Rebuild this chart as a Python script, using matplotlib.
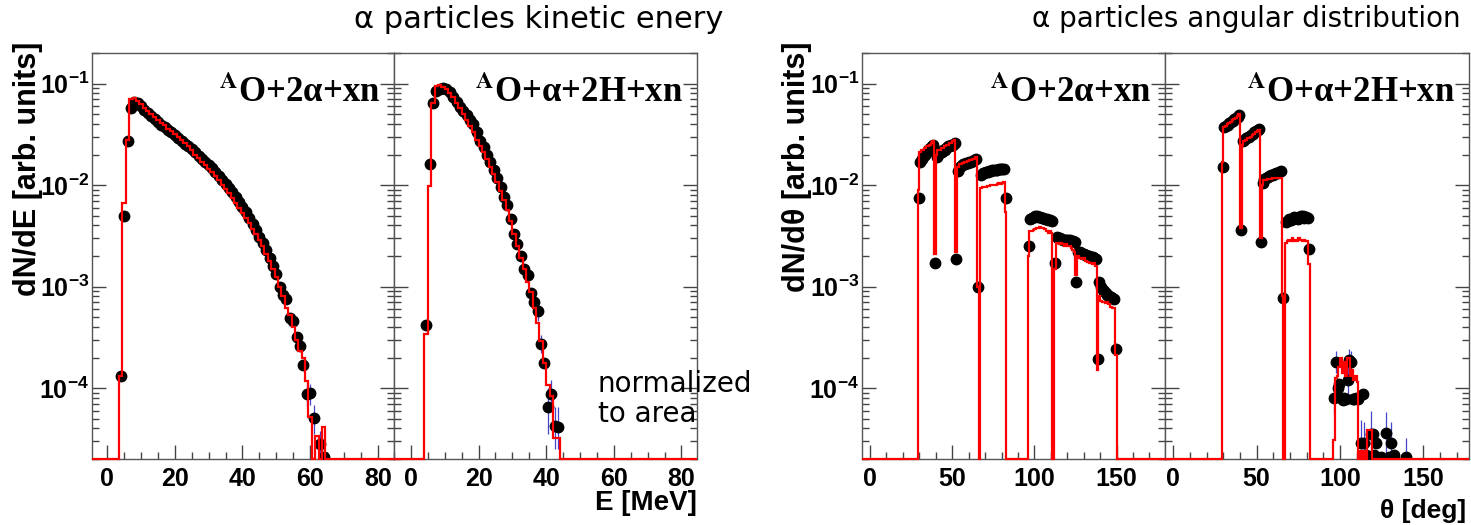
import numpy as np
import matplotlib.pyplot as plt
from matplotlib.ticker import MultipleLocator, LogLocator, FuncFormatter, NullFormatter

plt.rcParams['mathtext.fontset'] = 'custom'
plt.rcParams['mathtext.rm'] = 'Liberation Sans'
plt.rcParams['mathtext.bf'] = 'Liberation Sans:bold'

# ------------------------------------------------------------
# Data (1 MeV / 1 deg bins)
# ------------------------------------------------------------
# energy, channel O+2a+xn : bins from 3.5 MeV
e1_first_edge = 3.5
e1_sim = [1.3e-4, 6.7e-3, 0.028, 0.070, 0.072, 0.068, 0.063, 0.058, 0.054, 0.050,
          0.047, 0.044, 0.041, 0.039, 0.036, 0.034, 0.032, 0.030, 0.028, 0.026,
          0.024, 0.022, 0.020, 0.0185, 0.017, 0.0158, 0.0145, 0.0133, 0.0122, 0.0111,
          0.0101, 0.0092, 0.0083, 0.0075, 0.0067, 0.0060, 0.0053, 0.0047, 0.0042, 0.0037,
          0.0033, 0.0029, 0.0025, 0.0021, 0.0018, 0.0015, 0.00125, 0.00100, 0.00080, 0.00062,
          0.00052, 0.00040, 0.00030, 0.00023, 0.00020, 1.17e-4, 5.2e-5, 0, 3.4e-5, 0,
          4.1e-5]
e1_exp = [1.3e-4, 4.9e-3, 0.027, 0.058, 0.066, 0.064, 0.060, 0.055, 0.051, 0.048,
          0.045, 0.042, 0.039, 0.037, 0.035, 0.033, 0.031, 0.029, 0.027, 0.0255,
          0.024, 0.0225, 0.021, 0.0195, 0.018, 0.0168, 0.0157, 0.0146, 0.0135, 0.0124,
          0.0113, 0.0103, 0.0094, 0.0085, 0.0076, 0.0068, 0.0061, 0.0054, 0.0047, 0.0041,
          0.0036, 0.0031, 0.0027, 0.0023, 0.0019, 0.0016, 0.00132, 0.00098, 0.00082, 0.00075,
          0.00049, 0.00046, 0.00032, 0.00026, 0.00017, 8.7e-5, 8.9e-5, 5.1e-5, None, 2.8e-5,
          2.1e-5]
e1_err_x = [59.0, 60.0, 61.0, 63.0, 64.0]
e1_err_lo = [6.5e-5, 6.8e-5, 3.5e-5, 2.0e-5, 2.0e-5]
e1_err_hi = [1.1e-4, 1.1e-4, 6.8e-5, 3.8e-5, 3.0e-5]

# energy, channel O+a+2H+xn : bins from 4 MeV
e2_first_edge = 4.0
e2_sim = [3.4e-4, 9.7e-3, 0.064, 0.095, 0.096, 0.093, 0.088, 0.081, 0.073, 0.065,
          0.057, 0.050, 0.044, 0.038, 0.033, 0.028, 0.024, 0.021, 0.018, 0.015,
          0.0128, 0.0107, 0.0088, 0.0071, 0.0057, 0.0044, 0.0033, 0.0025, 0.0019, 0.0015,
          0.0011, 0.00088, 0.00062, 0.00044, 0.00029, 1.77e-4, 1.07e-4, 8.3e-5, 3.2e-5, 3.2e-5]
e2_exp = [4.2e-4, 0.016, 0.065, 0.084, 0.088, 0.090, 0.089, 0.082, 0.074, 0.066,
          0.059, 0.054, 0.049, 0.044, 0.0395, 0.033, 0.027, 0.0235, 0.0200, 0.0170,
          0.0140, 0.0118, 0.0096, 0.0077, 0.0063, 0.0046, 0.0033, 0.0026, 0.0020, 0.0015,
          0.0013, 0.00087, 0.00070, 0.00057, 0.00027, 1.77e-4, 6.5e-5, 8.8e-5, 4.2e-5, 4.1e-5]
e2_err_x = [37.5, 38.5, 40.5, 41.5, 42.5, 43.5]
e2_err_lo = [4.6e-4, 2.2e-4, 3.5e-5, 6.2e-5, 2.5e-5, 2.5e-5]
e2_err_hi = [6.8e-4, 3.3e-4, 1.0e-4, 1.2e-4, 6.5e-5, 6.5e-5]

# angle, channel O+2a+xn : bins from 29 deg
a1_first_edge = 29.0
a1_sim = [8.9e-3, 0.021, 0.022, 0.022, 0.023, 0.024, 0.024, 0.025, 0.026, 0.027, 2.1e-3,
          0.020, 0.022, 0.022, 0.023, 0.023, 0.024, 0.025, 0.025, 0.026, 0.026, 0.027, 0.028, 2.2e-3,
          0.015, 0.016, 0.016, 0.0165, 0.017, 0.017, 0.0172, 0.0175, 0.0175, 0.018, 0.018, 0.019, 1.0e-3, 0,
          0.0093, 0.0095, 0.0096, 0.0096, 0.0098, 0.0097, 0.0099, 0.0100, 0.0099, 0.0101, 0.0102, 0.0104,
          0.0103, 0.0105, 0.0106, 5.4e-3,
          0, 0, 0, 0, 0, 0, 0, 0, 0, 0, 0, 0, 0,
          2.0e-3, 3.5e-3, 3.5e-3, 3.6e-3, 3.7e-3, 3.8e-3, 3.8e-3, 3.9e-3, 3.8e-3, 3.8e-3, 3.7e-3, 3.5e-3,
          3.4e-3, 3.5e-3, 3.4e-3, 0,
          1.5e-3, 2.7e-3, 2.7e-3, 2.6e-3, 2.7e-3, 2.6e-3, 2.5e-3, 2.6e-3, 2.5e-3, 2.5e-3, 2.4e-3, 2.3e-3,
          2.2e-3, 1.3e-3,
          2.0e-3, 1.9e-3, 1.9e-3, 1.85e-3, 1.9e-3, 1.8e-3, 1.75e-3, 1.7e-3, 1.7e-3, 1.65e-3, 1.7e-3, 1.6e-3,
          1.5e-4,
          8.0e-4, 7.2e-4, 7.0e-4, 7.1e-4, 6.9e-4, 7.0e-4, 6.8e-4, 6.3e-4, 6.2e-4, 6.1e-4, 2.1e-4]
a1_exp = [7.4e-3, 0.017, 0.018, 0.019, 0.020, 0.021, 0.022, 0.023, 0.024, 0.025, 1.7e-3,
          0.019, 0.020, 0.021, 0.021, 0.022, 0.022, 0.023, 0.024, 0.024, 0.025, 0.025, 0.026, 1.85e-3,
          0.0138, 0.015, 0.0155, 0.016, 0.016, 0.0165, 0.0165, 0.017, 0.017, 0.0172, 0.0175, 0.018, 1.0e-3, None,
          0.0125, 0.013, 0.0132, 0.0135, 0.0135, 0.0137, 0.0138, 0.014, 0.014, 0.0141, 0.0142, 0.0143,
          0.0144, 0.0145, 0.0145, 7.5e-3,
          None, None, None, None, None, None, None, None, None, None, None, None, None,
          2.5e-3, 4.6e-3, 4.7e-3, 4.8e-3, 4.9e-3, 4.9e-3, 4.8e-3, 4.8e-3, 4.7e-3, 4.7e-3, 4.6e-3, 4.6e-3,
          4.5e-3, 4.5e-3, 4.4e-3, None,
          1.7e-3, 3.05e-3, 3.0e-3, 3.0e-3, 2.95e-3, 2.9e-3, 2.9e-3, 2.9e-3, 2.85e-3, 2.9e-3, 2.8e-3, 2.8e-3,
          2.75e-3, 1.1e-3,
          2.2e-3, 2.2e-3, 2.15e-3, 2.1e-3, 2.1e-3, 2.05e-3, 2.0e-3, 2.0e-3, 1.95e-3, 1.95e-3, 1.9e-3, 1.85e-3,
          1.95e-4,
          1.1e-3, 9.8e-4, 9.3e-4, 9.0e-4, 8.6e-4, 8.3e-4, 8.1e-4, 7.9e-4, 7.7e-4, 7.5e-4, 2.4e-4]

# angle, channel O+a+2H+xn : bins from 29 deg
a2_first_edge = 29.0
a2_sim = [0.0167, 0.037, 0.038, 0.040, 0.041, 0.042, 0.044, 0.045, 0.046, 0.048, 0.050, 3.8e-3,
          0.025, 0.027, 0.028, 0.029, 0.029, 0.030, 0.031, 0.032, 0.033, 0.034, 0.035, 3.0e-3,
          0.0101, 0.0113, 0.0113, 0.0114, 0.0116, 0.0116, 0.0117, 0.0117, 0.0118, 0.0118, 0.0118, 0.0118,
          8.0e-4, 0,
          2.7e-3, 2.8e-3, 2.9e-3, 2.8e-3, 3.0e-3, 2.8e-3, 2.9e-3, 2.8e-3, 3.0e-3, 2.9e-3, 2.8e-3, 2.9e-3,
          2.8e-3, 2.8e-3, 1.65e-3,
          0, 0, 0, 0, 0, 0, 0, 0, 0, 0, 0, 0, 0, 0,
          3.1e-5, 1.27e-4, 1.3e-4, 1.6e-4, 2.0e-4, 1.4e-4, 1.8e-4, 1.3e-4, 2.0e-4, 2.0e-4, 1.3e-4, 1.5e-4,
          1.2e-4, 1.3e-4, 1.15e-4, 0,
          2.4e-5, 0, 2.4e-5, 0, 3.9e-5, 3.9e-5, 3.9e-5]
a2_exp = [0.015, 0.037, 0.038, 0.039, 0.041, 0.042, 0.043, 0.045, 0.046, 0.047, 0.049, 3.6e-3,
          0.027, 0.028, 0.029, 0.030, 0.030, 0.031, 0.032, 0.033, 0.034, 0.035, 0.036, 2.75e-3,
          0.0105, 0.0115, 0.0118, 0.012, 0.0122, 0.0125, 0.0127, 0.0128, 0.013, 0.0132, 0.0135, 0.0137,
          7.8e-4, None,
          4.3e-3, 4.4e-3, 4.6e-3, 4.5e-3, 4.6e-3, 4.8e-3, 4.7e-3, 4.6e-3, 4.8e-3, 4.9e-3, 5.0e-3, 4.7e-3,
          4.8e-3, 4.7e-3, 2.35e-3,
          None, None, None, None, None, None, None, None, None, None, None, None, None, None,
          7.9e-5, 1.8e-4, 1.0e-4, 1.1e-4, 8.0e-5, 7.7e-5, 8.0e-5, 7.8e-5, 1.2e-4, 1.9e-4, 1.8e-4, 7.8e-5,
          7.8e-5, 8.0e-5, 7.8e-5, None,
          2.9e-5, 8.8e-5, 2.9e-5, 2.2e-5, None, None, 3.5e-5, 3.5e-5, 2.2e-5, 2.9e-5, None, None,
          2.1e-5, None, None, 3.6e-5, None, 2.1e-5, 2.9e-5, None, 2.2e-5, None, None, None,
          None, None, None, 2.1e-5]
a2_err_x = [96.5, 97.5, 104.5, 105.5, 106.5, 112.5, 114.5, 118.5, 127.5, 130.5, 139.5]
a2_err_lo = [5.5e-5, 1.4e-4, 8.0e-5, 1.4e-4, 1.3e-4, 1.8e-5, 1.6e-5, 2.0e-5, 2.2e-5, 1.8e-5, 1.5e-5]
a2_err_hi = [1.1e-4, 2.3e-4, 1.7e-4, 2.4e-4, 2.3e-4, 4.8e-5, 4.6e-5, 6.0e-5, 5.8e-5, 4.6e-5, 3.2e-5]

YMIN, YMAX = 2.0e-5, 0.2

# ------------------------------------------------------------
# Figure
# ------------------------------------------------------------
W, H = 1471, 525
fig = plt.figure(figsize=(W / 100, H / 100), dpi=100)


def px_axes(x0, x1, y0=53, y1=459):
    return fig.add_axes([x0 / W, 1 - y1 / H, (x1 - x0) / W, (y1 - y0) / H])


def log_label(v, pos):
    e = int(round(np.log10(v)))
    return r'$\mathbf{10^{%d}}$' % e


def style_axis(ax, xlim, major, minor, show_ylabels):
    ax.set_yscale('log')
    ax.set_ylim(YMIN, YMAX)
    ax.set_xlim(*xlim)
    ax.xaxis.set_major_locator(MultipleLocator(major))
    ax.xaxis.set_minor_locator(MultipleLocator(minor))
    ax.yaxis.set_major_locator(LogLocator(base=10, numticks=10))
    ax.yaxis.set_minor_locator(LogLocator(base=10, subs=np.arange(2, 10), numticks=20))
    ax.yaxis.set_minor_formatter(NullFormatter())
    if show_ylabels:
        ax.yaxis.set_major_formatter(FuncFormatter(log_label))
    else:
        ax.yaxis.set_major_formatter(NullFormatter())
    ax.tick_params(which='both', direction='in', top=False, right=True, color='#444444', width=1)
    ax.tick_params(which='major', length=10)
    ax.tick_params(which='minor', length=5)
    ax.tick_params(axis='x', labelsize=18, pad=6)
    ax.tick_params(axis='y', labelsize=18, pad=2)
    for lab in ax.get_xticklabels():
        lab.set_fontweight('bold')
        lab.set_family('Liberation Sans')
    for s in ax.spines.values():
        s.set_color('#555555')
        s.set_linewidth(1.0)


def draw_panel(ax, first_edge, sim, exp, xlim, err=None):
    sim = np.array(sim, dtype=float)
    exp = np.array([np.nan if v is None else v for v in exp], dtype=float)
    edges = first_edge + np.arange(len(sim) + 1)
    vals = np.where(sim > 0, sim, YMIN)
    full_edges = np.concatenate([[xlim[0]], edges, [xlim[1]]])
    full_vals = np.concatenate([[YMIN], vals, [YMIN]])
    centers = first_edge + np.arange(len(exp)) + 0.5
    if err is not None:
        ax.vlines(err[0], err[1], err[2], color='#4444cc', lw=0.9, zorder=2)
    ax.plot(centers, exp, 'o', color='black', ms=7.5, zorder=3)
    ax.stairs(full_vals, full_edges, color='red', lw=1.6, baseline=None, zorder=4, clip_on=False)


ax1 = px_axes(92, 394)
ax2 = px_axes(394, 697)
ax3 = px_axes(862, 1165)
ax4 = px_axes(1165, 1469)

xl1, xl2 = (-4.5, 84.8), (-5.0, 84.6)
xl3, xl4 = (-4.9, 179.5), (-5.0, 177.4)

draw_panel(ax1, e1_first_edge, e1_sim, e1_exp, xl1, (e1_err_x, e1_err_lo, e1_err_hi))
draw_panel(ax2, e2_first_edge, e2_sim, e2_exp, xl2, (e2_err_x, e2_err_lo, e2_err_hi))
draw_panel(ax3, a1_first_edge, a1_sim, a1_exp, xl3)
draw_panel(ax4, a2_first_edge, a2_sim, a2_exp, xl4, (a2_err_x, a2_err_lo, a2_err_hi))

style_axis(ax1, xl1, 20, 5, True)
style_axis(ax2, xl2, 20, 5, False)
style_axis(ax3, xl3, 50, 10, True)
style_axis(ax4, xl4, 50, 10, False)

# channel labels
lab_kw = dict(ha='right', va='baseline', fontsize=25, fontweight='bold',
              family='Liberation Serif', math_fontfamily='stix')
for ax, txt in [(ax1, r'$^{\mathbf{A}}$O+2α+xn'), (ax2, r'$^{\mathbf{A}}$O+α+2H+xn'),
                (ax3, r'$^{\mathbf{A}}$O+2α+xn'), (ax4, r'$^{\mathbf{A}}$O+α+2H+xn')]:
    ax.text(0.955, 0.88, txt, transform=ax.transAxes, **lab_kw)

fig.text(598 / W, 1 - 370 / H, 'normalized\nto area', ha='left', va='top',
         fontsize=20, family='DejaVu Sans', linespacing=1.1)

# titles
fig.text(539 / W, 1 - 19 / H, 'α particles kinetic enery', ha='center', va='center',
         fontsize=22, family='DejaVu Sans')
fig.text(1461 / W, 1 - 19 / H, 'α particles angular distribution', ha='right', va='center',
         fontsize=20, family='DejaVu Sans')

# axis titles
fig.text(28 / W, 1 - 42 / H, 'dN/dE [arb. units]', rotation=90, ha='center', va='top',
         fontsize=22, fontweight='bold', family='Liberation Sans')
fig.text(797 / W, 1 - 42 / H, 'dN/dθ [arb. units]', rotation=90, ha='center', va='top',
         fontsize=22, fontweight='bold', family='Liberation Sans')
fig.text(697 / W, 1 - 503 / H, 'E [MeV]', ha='right', va='center',
         fontsize=20, fontweight='bold', family='Liberation Sans')
fig.text(1466 / W, 1 - 511 / H, 'θ [deg]', ha='right', va='center',
         fontsize=19, fontweight='bold', family='Liberation Sans')

fig.savefig('out.png', dpi=100)
